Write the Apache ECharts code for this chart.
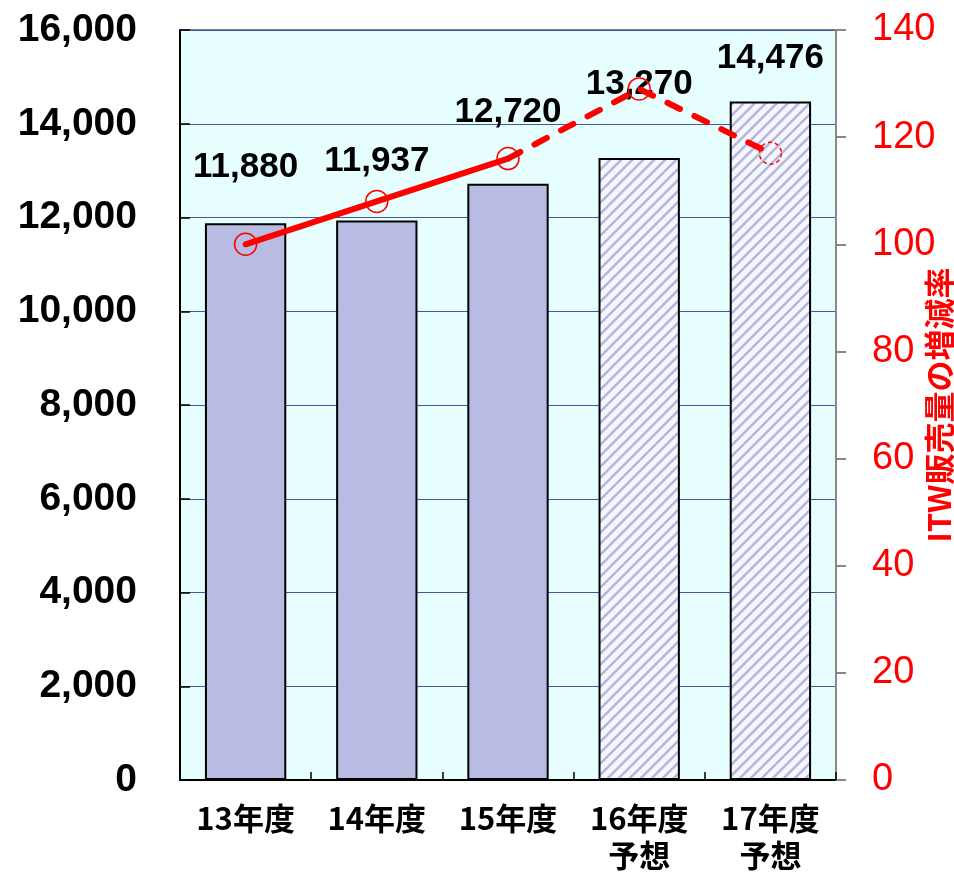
<!DOCTYPE html>
<html>
<head>
<meta charset="utf-8">
<script src="https://cdn.jsdelivr.net/npm/echarts@6/dist/echarts.min.js"></script>
<style>
  html, body { margin: 0; padding: 0; background: #fff; }
  #main { width: 954px; height: 872px; }
</style>
</head>
<body>
<div id="main"></div>
<script>
// データ
const categories = ['13年度', '14年度', '15年度', '16年度\n予想', '17年度\n予想'];
const sales = [11880, 11937, 12720, 13270, 14476];
const rate = [100, 108, 116, 129, 117];
const leftTicks = { min: 0, max: 16000, interval: 2000 };
const rightTicks = { min: 0, max: 140, interval: 20 };
const forecastStart = 3;   // 予想（斜線）の開始
const dashStart = 2;       // 点線の開始
const labelGap = [38, 42, 54, 56, 26];

// 斜線パターン
function hatch() {
  const s = 11;
  const c = document.createElement('canvas');
  c.width = s; c.height = s;
  const g = c.getContext('2d');
  g.fillStyle = '#f6f7fb';
  g.fillRect(0, 0, s, s);
  g.strokeStyle = '#b3b7e2';
  g.lineWidth = 2.6;
  g.beginPath();
  g.moveTo(-s, s); g.lineTo(s, -s);
  g.moveTo(0, s); g.lineTo(s, 0);
  g.moveTo(0, 2 * s); g.lineTo(2 * s, 0);
  g.stroke();
  return c;
}
const pattern = { image: hatch(), repeat: 'repeat' };

const comma = v => String(v).replace(/\B(?=(\d{3})+(?!\d))/g, ',');

const barData = sales.map((v, i) => ({
  value: v,
  itemStyle: { color: i >= forecastStart ? pattern : '#b8bce2' },
  label: { distance: labelGap[i] }
}));

const solidData = rate.map((v, i) => i <= dashStart ? v : '-');
const dashData = rate.map((v, i) => {
  if (i < dashStart) return '-';
  if (i === dashStart) return { value: v, symbol: 'none' };
  if (i === rate.length - 1) return { value: v, itemStyle: { borderType: [4, 3] } };
  return v;
});

const chart = echarts.init(document.getElementById('main'), null, { renderer: 'canvas' });
chart.setOption({
  animation: false,
  backgroundColor: '#fff',
  grid: {
    left: 180, right: 118, top: 30, bottom: 92,
    outerBoundsMode: 'none',
    show: true, backgroundColor: '#e6fefe', borderColor: '#555', borderWidth: 1.5
  },
  xAxis: {
    type: 'category',
    data: categories,
    axisLine: { lineStyle: { color: '#000', width: 2 } },
    axisTick: { show: true, inside: true, length: 8, lineStyle: { color: '#000', width: 1.5 } },
    axisLabel: {
      color: '#000', fontSize: 31, fontWeight: 'bold', lineHeight: 37, margin: 20,
      fontFamily: '"Noto Sans CJK JP", sans-serif'
    }
  },
  yAxis: [{
    type: 'value',
    min: leftTicks.min, max: leftTicks.max, interval: leftTicks.interval,
    axisLine: { show: true, lineStyle: { color: '#000', width: 2 } },
    axisTick: { show: true, inside: true, length: 10, lineStyle: { color: '#000', width: 1.5 } },
    splitLine: { lineStyle: { color: '#4656a6', width: 1 } },
    axisLabel: {
      color: '#000', fontSize: 39, fontWeight: 'bold', margin: 43,
      fontFamily: '"Liberation Sans", Arial, sans-serif',
      formatter: comma
    }
  }, {
    type: 'value',
    position: 'right',
    min: rightTicks.min, max: rightTicks.max, interval: rightTicks.interval,
    name: 'ITW販売量の増減率',
    nameLocation: 'middle',
    nameRotate: 90,
    nameGap: 88,
    nameMoveOverlap: false,
    nameTextStyle: {
      color: '#ff0000', fontSize: 31, fontWeight: 'bold',
      fontFamily: '"Noto Sans CJK JP", sans-serif'
    },
    axisLine: { show: true, lineStyle: { color: '#888', width: 2 } },
    axisTick: { show: true, inside: false, length: 10, lineStyle: { color: '#888', width: 2 } },
    splitLine: { show: false },
    axisLabel: {
      color: '#ff0000', fontSize: 38, margin: 36,
      fontFamily: '"Liberation Sans", Arial, sans-serif'
    }
  }],
  series: [{
    type: 'bar',
    data: barData,
    barWidth: '62%',
    itemStyle: { borderColor: '#000', borderWidth: 2 },
    label: {
      show: true, position: 'top', color: '#000', fontSize: 35, fontWeight: 'bold',
      fontFamily: '"Liberation Sans", Arial, sans-serif',
      formatter: p => comma(p.value)
    },
    z: 2
  }, {
    type: 'line',
    yAxisIndex: 1,
    data: solidData,
    symbol: 'circle',
    symbolSize: 22,
    showAllSymbol: true,
    lineStyle: { color: '#ff0000', width: 6, cap: 'round' },
    itemStyle: { color: 'rgba(0,0,0,0)', borderColor: '#ff0000', borderWidth: 1.5 },
    z: 3
  }, {
    type: 'line',
    yAxisIndex: 1,
    data: dashData,
    symbol: 'circle',
    symbolSize: 22,
    showAllSymbol: true,
    lineStyle: { color: '#ff0000', width: 6, type: [14, 16], cap: 'round' },
    itemStyle: { color: 'rgba(0,0,0,0)', borderColor: '#ff0000', borderWidth: 1.5 },
    z: 3
  }]
});
</script>
</body>
</html>
